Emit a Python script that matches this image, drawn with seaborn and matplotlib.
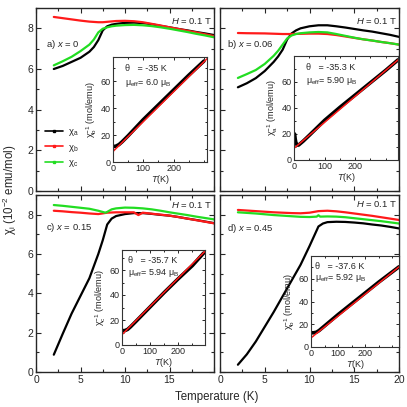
import matplotlib
matplotlib.use("Agg")
import matplotlib.pyplot as plt
from matplotlib.lines import Line2D
from matplotlib.ticker import MultipleLocator
import seaborn as sns
import pandas as pd

# ---------------- data ----------------
# panel a) x = 0
a_T_black = [2, 3, 4, 5, 6, 6.5, 7, 7.5, 8, 8.5, 9, 10, 11, 12, 13, 14, 15, 16, 17, 18, 19, 20]
a_black = [6.0, 6.15, 6.35, 6.55, 6.85, 7.08, 7.42, 7.9, 8.1, 8.18, 8.22, 8.27, 8.28, 8.26, 8.2, 8.12, 8.05, 7.97, 7.9, 7.82, 7.75, 7.67]
a_T_red = [2, 3, 4, 5, 6, 7, 7.5, 8, 9, 10, 11, 12, 13, 14, 15, 16, 17, 18, 19, 20]
a_red = [8.56, 8.5, 8.44, 8.38, 8.33, 8.3, 8.3, 8.32, 8.36, 8.37, 8.35, 8.3, 8.22, 8.14, 8.05, 7.97, 7.88, 7.8, 7.71, 7.62]
a_T_green = [2, 3, 4, 5, 6, 6.5, 7, 7.5, 8, 8.5, 9, 10, 11, 12, 13, 14, 15, 16, 17, 18, 19, 20]
a_green = [6.18, 6.38, 6.6, 6.88, 7.2, 7.45, 7.8, 7.98, 8.05, 8.1, 8.13, 8.16, 8.17, 8.15, 8.11, 8.05, 7.98, 7.9, 7.82, 7.73, 7.65, 7.56]

# panel b) x = 0.06
b_T_black = [2, 3, 4, 5, 6, 6.5, 7, 7.5, 8, 8.5, 9, 10, 11, 12, 13, 14, 15, 16, 17, 18, 19, 20]
b_black = [5.1, 5.3, 5.55, 5.9, 6.35, 6.62, 6.95, 7.45, 7.75, 7.9, 8.0, 8.1, 8.15, 8.15, 8.1, 8.04, 7.97, 7.9, 7.84, 7.76, 7.68, 7.58]
b_T_red = [2, 3, 5, 7, 8, 9, 10, 11, 12, 13, 14, 15, 16, 17, 18, 19, 20]
b_red = [7.77, 7.76, 7.75, 7.72, 7.72, 7.73, 7.74, 7.74, 7.72, 7.67, 7.6, 7.53, 7.46, 7.4, 7.33, 7.27, 7.2]
b_T_green = [2, 3, 4, 5, 6, 6.5, 7, 7.5, 8, 8.5, 9, 10, 11, 12, 13, 14, 15, 16, 17, 18, 19, 20]
b_green = [5.56, 5.75, 5.95, 6.25, 6.65, 6.9, 7.2, 7.5, 7.65, 7.72, 7.76, 7.8, 7.82, 7.8, 7.72, 7.63, 7.54, 7.46, 7.4, 7.33, 7.27, 7.2]

# panel c) x = 0.15
c_T_black = [2, 3, 4, 5, 6, 7, 7.5, 8, 8.5, 9, 10, 11, 12, 13, 14, 15, 16, 17, 18, 19, 20]
c_black = [0.88, 1.94, 2.97, 3.87, 4.77, 6.0, 6.7, 7.5, 7.8, 7.93, 8.03, 8.08, 8.08, 8.04, 7.99, 7.95, 7.88, 7.8, 7.73, 7.65, 7.57]
c_T_red = [2, 3, 4, 5, 6, 7, 8, 9, 10, 11, 11.5, 12, 13, 14, 15, 16, 17, 18, 19, 20]
c_red = [8.2, 8.17, 8.13, 8.1, 8.06, 8.03, 8.1, 8.12, 8.12, 8.12, 7.98, 8.1, 8.05, 8.0, 7.95, 7.88, 7.8, 7.72, 7.64, 7.56]
c_T_green = [2, 3, 4, 5, 6, 7, 7.8, 8, 8.5, 9, 10, 11, 12, 13, 14, 15, 16, 17, 18, 19, 20]
c_green = [8.49, 8.45, 8.4, 8.35, 8.3, 8.2, 8.1, 8.14, 8.27, 8.32, 8.36, 8.35, 8.32, 8.27, 8.2, 8.12, 8.05, 7.98, 7.9, 7.83, 7.76]

# panel d) x = 0.45
d_T_black = [2, 3, 4, 5, 6, 7, 8, 9, 10, 10.5, 11, 11.5, 12, 13, 14, 15, 16, 17, 18, 19, 20]
d_black = [0.37, 0.9, 1.55, 2.3, 3.05, 3.85, 4.65, 5.45, 6.4, 6.9, 7.4, 7.55, 7.62, 7.64, 7.63, 7.6, 7.56, 7.5, 7.45, 7.38, 7.3]
d_T_red = [2, 3, 4, 5, 6, 7, 8, 9, 10, 11, 12, 13, 14, 15, 16, 17, 18, 19, 20]
d_red = [8.24, 8.21, 8.18, 8.15, 8.12, 8.1, 8.08, 8.07, 8.1, 8.18, 8.2, 8.17, 8.12, 8.06, 8.0, 7.94, 7.87, 7.8, 7.73]
d_T_green = [2, 3, 4, 5, 6, 7, 8, 9, 10, 10.8, 11, 11.2, 12, 13, 14, 15, 16, 17, 18, 19, 20]
d_green = [8.12, 8.09, 8.06, 8.02, 7.98, 7.95, 7.92, 7.89, 7.88, 7.9, 7.97, 7.9, 7.91, 7.9, 7.87, 7.82, 7.77, 7.72, 7.67, 7.61, 7.55]

# inverse susceptibility insets: data (black) and Curie-Weiss fit (red)
a_inv_T = [2, 10, 20, 30, 50, 100, 150, 200, 250, 300]
a_inv = [11.5, 11.8, 13, 15, 19.5, 31.5, 42.5, 53.5, 64.5, 75]
a_fit_T = [0, 310]
a_fit = [7.8, 76.7]

b_inv_T = [2, 4, 6, 10, 15, 20, 30, 50, 100, 150, 200, 250, 300, 340]
b_inv = [20, 16, 13.5, 11.5, 11.5, 12.5, 14.5, 19, 30.5, 40.5, 50, 59.5, 69, 77]
b_fit_T = [0, 340]
b_fit = [9, 77]

c_inv_T = [2, 10, 20, 30, 50, 100, 150, 200, 250, 290]
c_inv = [11.5, 11.5, 12.5, 14.5, 19, 30.5, 42, 53, 63.5, 73.5]
c_fit_T = [0, 295]
c_fit = [8.3, 75]

d_inv_T = [2, 10, 20, 30, 50, 100, 150, 200, 250, 300, 325]
d_inv = [12.5, 12.5, 13, 14.5, 18.5, 28.5, 38, 47.5, 57, 66, 70.5]
d_fit_T = [0, 325]
d_fit = [8, 70.5]

series_names = ["χ$_a$", "χ$_b$", "χ$_c$"]
colors = ["black", "#ff1a1a", "#22dd22"]
panel_labels = ["a) $\\mathit{x}$ = 0", "b) $\\mathit{x}$ = 0.06",
                "c) $\\mathit{x}$ = 0.15", "d) $\\mathit{x}$ = 0.45"]
theta_texts = ["θ   = -35 K", "θ   = -35.3 K", "θ   = -35.7 K", "θ   = -37.6 K"]
mu_texts = ["μ$_{\\rm eff}$= 6.0 μ$_{\\rm B}$", "μ$_{\\rm eff}$= 5.90 μ$_{\\rm B}$",
            "μ$_{\\rm eff}$= 5.94 μ$_{\\rm B}$", "μ$_{\\rm eff}$= 5.92 μ$_{\\rm B}$"]
inset_ylabels = ["χ$_b^{-1}$ (mol/emu)", "χ$_a^{-1}$ (mol/emu)",
                 "χ$_c^{-1}$ (mol/emu)", "χ$_b^{-1}$ (mol/emu)"]
main_xticks = [0, 5, 10, 15, 20]
inset_xticks = [0, 100, 200]
inset_yticks = [0, 20, 40, 60]

# ---------------- style ----------------
sns.set_style("ticks")
plt.rcParams["font.family"] = ["Liberation Sans", "DejaVu Sans"]
plt.rcParams["mathtext.fontset"] = "custom"
plt.rcParams["mathtext.rm"] = "Liberation Sans"
plt.rcParams["mathtext.it"] = "Liberation Sans:italic"
plt.rcParams["mathtext.bf"] = "Liberation Sans:bold"
plt.rcParams["mathtext.default"] = "regular"
plt.rcParams["axes.linewidth"] = 1.0

fig = plt.figure(figsize=(4.07, 4.07), dpi=100)
W = H = 407.0


def px_axes(x0, x1, y0, y1):
    return fig.add_axes([x0 / W, 1 - y1 / H, (x1 - x0) / W, (y1 - y0) / H])


main_boxes = [(36, 214, 8, 191), (220, 399, 8, 191), (36, 214, 195, 372), (220, 399, 195, 372)]
inset_boxes = [(113, 207, 57, 162), (294, 398, 56, 160), (122, 205, 250, 345), (311, 399, 256, 347)]
inset_lims = [(310, 78), (340, 80), (295, 76), (325, 80)]
inset_text_x = [0.13, 0.12, 0.07, 0.05]
H_y = [8.35, 8.35, 8.5, 8.53]
lab_xy = [(1.1, 7.2), (0.75, 7.2), (1.1, 7.35), (0.75, 7.3)]

panels = [
    ((a_T_black, a_black), (a_T_red, a_red), (a_T_green, a_green)),
    ((b_T_black, b_black), (b_T_red, b_red), (b_T_green, b_green)),
    ((c_T_black, c_black), (c_T_red, c_red), (c_T_green, c_green)),
    ((d_T_black, d_black), (d_T_red, d_red), (d_T_green, d_green)),
]
insets = [
    (a_inv_T, a_inv, a_fit_T, a_fit),
    (b_inv_T, b_inv, b_fit_T, b_fit),
    (c_inv_T, c_inv, c_fit_T, c_fit),
    (d_inv_T, d_inv, d_fit_T, d_fit),
]

for i in range(4):
    ax = px_axes(*main_boxes[i])
    frames = []
    for (T, v), name in zip(panels[i], series_names):
        frames.append(pd.DataFrame({"T": T, "chi": v, "s": name}))
    df = pd.concat(frames, ignore_index=True)
    sns.lineplot(data=df, x="T", y="chi", hue="s", hue_order=series_names,
                 palette=colors, lw=1.6, sort=False, legend=False, ax=ax)
    ax.set_xlim(0, 20)
    ax.set_ylim(0, 9)
    ax.set_xlabel("")
    ax.set_ylabel("")
    ax.set_xticks(main_xticks)
    ax.xaxis.set_minor_locator(MultipleLocator(2.5))
    ax.yaxis.set_major_locator(MultipleLocator(2))
    ax.yaxis.set_minor_locator(MultipleLocator(1))
    ax.tick_params(which="both", direction="in", top=True, right=True, labelsize=7.5, pad=2)
    ax.tick_params(which="major", length=3.5, width=0.8)
    ax.tick_params(which="minor", length=2, width=0.8)
    if i in (0, 1):
        ax.set_xticklabels([])
    if i in (1, 3):
        ax.set_yticklabels([])
    if i == 2:
        ax.set_xticklabels([str(t) for t in main_xticks[:-1]] + [""])
    ax.text(19.8, H_y[i], "$\\mathit{H}$ = 0.1 T", ha="right", va="center", fontsize=6.8)
    ax.text(lab_xy[i][0], lab_xy[i][1], panel_labels[i], ha="left", va="center", fontsize=6.8)

    if i == 0:
        handles = [Line2D([], [], color=c, lw=1.2, marker="s", markersize=1.8) for c in colors]
        ax.legend(handles, series_names, loc="lower left", bbox_to_anchor=(0.03, 0.1),
                  frameon=False, fontsize=6.8, handlelength=1.9, handletextpad=0.5,
                  labelspacing=0.45, borderaxespad=0)

    # inset
    ix = px_axes(*inset_boxes[i])
    Tin, vin, Tf, vf = insets[i]
    sns.lineplot(x=Tin, y=vin, color="black", lw=2.6, ax=ix)
    sns.lineplot(x=Tf, y=vf, color="#ff1a1a", lw=1.1, ax=ix)
    ix.set_xlim(0, inset_lims[i][0])
    ix.set_ylim(0, inset_lims[i][1])
    ix.set_xticks(inset_xticks)
    ix.set_yticks(inset_yticks)
    ix.xaxis.set_minor_locator(MultipleLocator(50))
    ix.yaxis.set_minor_locator(MultipleLocator(10))
    ix.tick_params(which="both", direction="in", top=True, right=True, labelsize=6.5, pad=1.5)
    ix.tick_params(which="major", length=2.5, width=0.7)
    ix.tick_params(which="minor", length=1.5, width=0.7)
    for sp in ix.spines.values():
        sp.set_linewidth(0.8)
        sp.set_color("#333333")
    ix.set_xlabel("$\\mathit{T}$(K)", fontsize=6.5, labelpad=0)
    ix.set_ylabel(inset_ylabels[i], fontsize=6.5, labelpad=1)
    ix.text(inset_text_x[i], 0.89, theta_texts[i], transform=ix.transAxes, fontsize=6.5, va="center")
    ix.text(inset_text_x[i], 0.755, mu_texts[i], transform=ix.transAxes, fontsize=6.5, va="center")

fig.text(10 / W, 1 - 190 / H, "χ$_i$ (10$^{-2}$ emu/mol)", rotation=90, ha="center", va="center", fontsize=8.3)
fig.text(217 / W, 1 - 397 / H, "Temperature (K)", ha="center", va="center", fontsize=8.3)

fig.savefig("out.png", dpi=100)
